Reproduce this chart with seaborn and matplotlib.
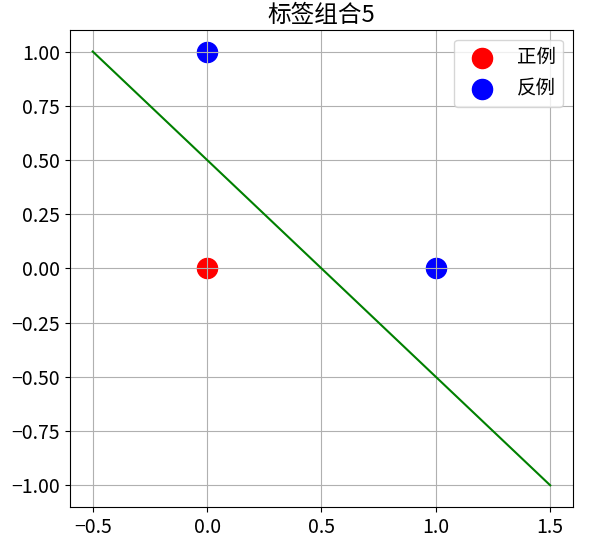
import numpy as np
import pandas as pd
import matplotlib
matplotlib.use("Agg")
import matplotlib.pyplot as plt
import seaborn as sns

# datos de los puntos
pos_x = [0]
pos_y = [0]
neg_x = [0, 1]
neg_y = [1, 0]
linea_x = [-0.5, 1.5]
linea_y = [1.0, -1.0]
xticks = [-0.5, 0.0, 0.5, 1.0, 1.5]
yticks = [-1.0, -0.75, -0.5, -0.25, 0.0, 0.25, 0.5, 0.75, 1.0]
titulo = "标签组合5"

plt.rcParams['font.family'] = ['Noto Sans CJK SC', 'DejaVu Sans']
plt.rcParams['font.size'] = 14

fig = plt.figure(figsize=(6.02, 5.46), dpi=100)
ax = fig.add_axes([0.116, 0.0714, 0.836, 0.874])

# los puntos quedan por debajo de la cuadricula, como en matplotlib por defecto
sns.scatterplot(x=pos_x, y=pos_y, color='red', s=210, label='正例', ax=ax,
                edgecolor='red', linewidth=1, zorder=1)
sns.scatterplot(x=neg_x, y=neg_y, color='blue', s=210, label='反例', ax=ax,
                edgecolor='blue', linewidth=1, zorder=1)
sns.lineplot(x=linea_x, y=linea_y, color='green', ax=ax, zorder=2)

ax.set_xticks(xticks)
ax.set_yticks(yticks)
ax.set_xticklabels([f"{v:.1f}".replace('-', '\u2212') for v in xticks])
ax.set_yticklabels([f"{v:.2f}".replace('-', '\u2212') for v in yticks])
ax.grid(True)
ax.set_axisbelow('line')
ax.set_title(titulo, fontsize=17)
ax.legend(loc='upper right', fontsize=14)

fig.savefig('out.png', dpi=100)
